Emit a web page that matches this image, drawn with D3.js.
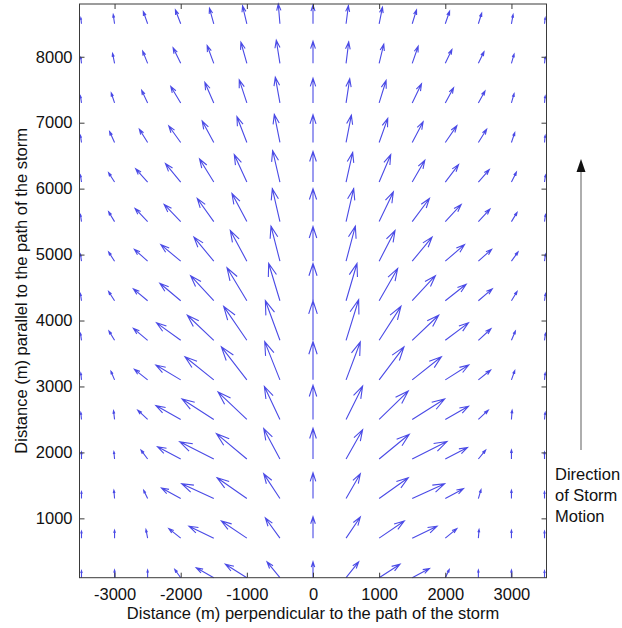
<!DOCTYPE html>
<html>
<head>
<meta charset="utf-8">
<script src="https://cdn.jsdelivr.net/npm/d3@7"></script>
<style>
  body { margin: 0; background: #ffffff; }
  svg { display: block; }
  text { font-family: "Liberation Sans", Arial, sans-serif; fill: #111; }
</style>
</head>
<body>
<svg id="chart" width="622" height="628"></svg>
<script>
// Grid positions of the vectors (m)
const xGrid = [-3500, -3000, -2500, -2000, -1500, -1000, -500, 0, 500, 1000, 1500, 2000, 2500, 3000, 3500];
const yGrid = [100, 700, 1300, 1900, 2500, 3100, 3700, 4300, 4900, 5500, 6100, 6700, 7300, 7900, 8500];

// Tick labels
const xTicks = [-3000, -2000, -1000, 0, 1000, 2000, 3000];
const yTicks = [1000, 2000, 3000, 4000, 5000, 6000, 7000, 8000];

// Vector components as drawn (m), one row per yGrid value, columns follow xGrid
const uRows = [
  [0, 0, 0, -90, -265, -325, -195, 0, 190, 315, 260, 60, 0, 0, 0],
  [0, 0, -25, -180, -375, -385, -220, 0, 215, 380, 375, 175, 10, 0, 0],
  [0, -10, -60, -290, -485, -450, -245, 0, 215, 440, 490, 275, 40, 0, 0],
  [0, -10, -100, -350, -515, -460, -245, 0, 250, 455, 525, 335, 110, 0, 0],
  [-10, -15, -150, -375, -480, -435, -235, 0, 250, 440, 490, 350, 150, 10, 10],
  [-10, -55, -200, -375, -435, -385, -230, 0, 215, 375, 440, 355, 185, 50, 10],
  [-15, -85, -215, -365, -400, -350, -220, 0, 190, 330, 400, 350, 190, 60, 15],
  [-15, -90, -215, -315, -350, -300, -170, 0, 165, 280, 350, 315, 210, 85, 15],
  [-15, -90, -200, -300, -300, -250, -135, 0, 140, 240, 300, 290, 200, 100, 15],
  [-15, -90, -190, -250, -250, -225, -115, 0, 115, 215, 260, 240, 175, 85, 15],
  [-15, -90, -180, -230, -215, -190, -110, 0, 100, 175, 190, 200, 165, 75, 15],
  [-15, -75, -125, -180, -175, -150, -85, 0, 80, 130, 165, 175, 125, 50, 10],
  [-15, -50, -90, -150, -135, -115, -70, 0, 55, 105, 140, 125, 100, 40, 10],
  [-10, -30, -75, -115, -100, -90, -55, 0, 40, 70, 90, 100, 85, 40, 10],
  [-10, -20, -65, -80, -65, -65, -25, 0, 35, 50, 65, 65, 50, 25, 10]
];
const vRows = [
  [105, 115, 115, 125, 150, 205, 240, 240, 240, 205, 140, 125, 115, 115, 105],
  [105, 120, 130, 145, 180, 260, 305, 325, 320, 260, 180, 145, 130, 120, 105],
  [105, 125, 125, 160, 225, 315, 375, 390, 375, 315, 225, 150, 135, 125, 105],
  [105, 110, 135, 185, 260, 385, 460, 465, 445, 375, 265, 175, 135, 135, 105],
  [105, 130, 140, 210, 310, 415, 500, 520, 505, 430, 310, 200, 140, 140, 105],
  [105, 130, 160, 225, 350, 500, 580, 580, 575, 500, 350, 225, 150, 140, 105],
  [105, 140, 180, 265, 380, 515, 600, 600, 615, 515, 380, 265, 175, 140, 105],
  [105, 140, 180, 265, 380, 500, 565, 565, 565, 490, 380, 250, 180, 140, 105],
  [105, 140, 180, 250, 365, 465, 530, 525, 530, 465, 365, 250, 180, 140, 105],
  [105, 150, 200, 260, 350, 425, 500, 500, 500, 450, 350, 260, 190, 140, 105],
  [105, 140, 200, 280, 350, 415, 475, 465, 450, 415, 330, 265, 190, 150, 105],
  [105, 165, 200, 250, 325, 390, 425, 420, 415, 365, 315, 255, 200, 150, 105],
  [105, 150, 190, 250, 310, 350, 390, 375, 365, 340, 290, 230, 180, 140, 105],
  [90, 150, 185, 235, 270, 320, 350, 335, 325, 290, 260, 210, 175, 140, 90],
  [90, 140, 185, 210, 235, 270, 300, 285, 275, 250, 210, 190, 160, 140, 90]
];

const xLabel = "Distance (m) perpendicular to the path of the storm";
const yLabel = "Distance (m) parallel to the path of the storm";
const noteLines = ["Direction", "of Storm", "Motion"];

// ---------------------------------------------------------------
const svg = d3.select("#chart");
const fontSize = 16.5;
const plainNumber = d => String(d);   // hyphen-minus, as in the original

const x = d3.scaleLinear().domain([-3530, 3530]).range([79.5, 546.5]);
const y = d3.scaleLinear().domain([100, 8800]).range([577.7, 4]);

const [x0, x1] = x.range();
const [yb, yt] = y.range();

// Quiver arrows
const vectors = [];
yGrid.forEach((yy, i) => {
  xGrid.forEach((xx, j) => {
    vectors.push({ x: xx, y: yy, u: uRows[i][j], v: vRows[i][j] });
  });
});

const alpha = 0.33, beta = 0.33;
function arrowPath(d) {
  const px0 = x(d.x), py0 = y(d.y);
  const px1 = x(d.x + d.u), py1 = y(d.y + d.v);
  const dx = px1 - px0, dy = py1 - py0;
  const h1x = px1 - alpha * (dx + beta * dy), h1y = py1 - alpha * (dy - beta * dx);
  const h2x = px1 - alpha * (dx - beta * dy), h2y = py1 - alpha * (dy + beta * dx);
  return `M${px0},${py0}L${px1},${py1}M${h1x},${h1y}L${px1},${py1}L${h2x},${h2y}`;
}

svg.append("g")
  .selectAll("path")
  .data(vectors)
  .join("path")
  .attr("d", arrowPath)
  .attr("fill", "none")
  .attr("stroke", "#4a4ae6")
  .attr("stroke-width", 1.1)
  .attr("stroke-linejoin", "miter");

// Axes (inward ticks on all four sides, MATLAB style box)
const axisColor = "#3a3a3a";
function styleAxis(g) {
  g.select(".domain").remove();
  g.selectAll(".tick line").attr("stroke", axisColor).attr("stroke-width", 1);
  g.selectAll(".tick text")
    .style("font-family", '"Liberation Sans", Arial, sans-serif')
    .style("font-size", fontSize + "px")
    .attr("fill", "#111");
}

svg.append("g")
  .attr("transform", `translate(0,${yb})`)
  .call(d3.axisBottom(x).tickValues(xTicks).tickFormat(plainNumber).tickSize(-5).tickPadding(10.5))
  .call(styleAxis);

svg.append("g")
  .attr("transform", `translate(0,${yt})`)
  .call(d3.axisTop(x).tickValues(xTicks).tickFormat("").tickSize(-5))
  .call(styleAxis);

svg.append("g")
  .attr("transform", `translate(${x0},0)`)
  .call(d3.axisLeft(y).tickValues(yTicks).tickFormat(plainNumber).tickSize(-5).tickPadding(7))
  .call(styleAxis);

svg.append("g")
  .attr("transform", `translate(${x1},0)`)
  .call(d3.axisRight(y).tickValues(yTicks).tickFormat("").tickSize(-5))
  .call(styleAxis);

// Frame
svg.append("rect")
  .attr("x", x0).attr("y", yt)
  .attr("width", x1 - x0).attr("height", yb - yt)
  .attr("fill", "none")
  .attr("stroke", axisColor)
  .attr("stroke-width", 1);

// Axis labels
svg.append("text")
  .attr("x", (x0 + x1) / 2)
  .attr("y", 619)
  .attr("text-anchor", "middle")
  .style("font-size", fontSize + "px")
  .text(xLabel);

svg.append("text")
  .attr("transform", `translate(26.5,${(yb + yt) / 2}) rotate(-90)`)
  .attr("text-anchor", "middle")
  .style("font-size", fontSize + "px")
  .text(yLabel);

// Direction of storm motion annotation
svg.append("line")
  .attr("x1", 581).attr("y1", 450)
  .attr("x2", 581).attr("y2", 170)
  .attr("stroke", "#9a9a9a")
  .attr("stroke-width", 1.6);
svg.append("path")
  .attr("d", "M581,159L576.5,172L585.5,172Z")
  .attr("fill", "#111");

svg.append("g")
  .selectAll("text")
  .data(noteLines)
  .join("text")
  .attr("x", 555)
  .attr("y", (d, i) => 480 + i * 21)
  .style("font-size", fontSize + "px")
  .text(d => d);
</script>
</body>
</html>
